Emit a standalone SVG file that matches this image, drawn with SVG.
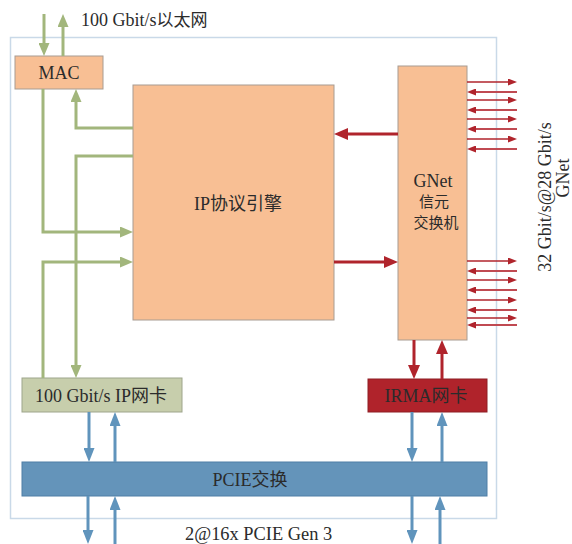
<svg xmlns="http://www.w3.org/2000/svg" width="572" height="544" viewBox="0 0 572 544">
<style>
text{font-family:"Liberation Serif","Noto Sans CJK SC",serif;fill:#2b2b2b;}
.box{fill:#F8BF94;stroke:#A89C92;stroke-width:1;}
.g{fill:none;stroke:#A2B67C;stroke-width:3;}
.rb{fill:none;stroke:#B0242C;stroke-width:3;}
.rs{fill:none;stroke:#B0242C;stroke-width:1.4;}
.rs2{fill:none;stroke:#C04A52;stroke-width:1.8;}
.b{fill:none;stroke:#6094BC;stroke-width:3;}
</style>
<defs>
<marker id="mg" markerUnits="userSpaceOnUse" markerWidth="13" markerHeight="11" refX="0" refY="5.5" orient="auto"><path d="M0,0L13,5.5L0,11z" fill="#A2B67C"/></marker>
<marker id="mr" markerUnits="userSpaceOnUse" markerWidth="14" markerHeight="12" refX="0" refY="6" orient="auto"><path d="M0,0L14,6L0,12z" fill="#B0242C"/></marker>
<marker id="ms" markerUnits="userSpaceOnUse" markerWidth="9" markerHeight="7" refX="0" refY="3.5" orient="auto"><path d="M0,0L9,3.5L0,7z" fill="#B0242C"/></marker>
<marker id="mb" markerUnits="userSpaceOnUse" markerWidth="14" markerHeight="11" refX="0" refY="5.5" orient="auto"><path d="M0,0L14,5.5L0,11z" fill="#6094BC"/></marker>
</defs>
<rect x="0" y="0" width="572" height="544" fill="#fff"/>
<rect id="frame" x="10.5" y="37.5" width="486" height="481" fill="none" stroke="#C9D9E8" stroke-width="1.5"/>
<text x="81" y="26" font-size="18">100 Gbit/s<tspan font-size="17">以太网</tspan></text>
<g id="mac"><rect class="box" x="15" y="56" width="88" height="33"/><text x="59" y="78.5" font-size="18" text-anchor="middle">MAC</text></g>
<g id="ip"><rect class="box" x="133" y="85" width="201" height="235"/><text x="238" y="210" font-size="18" text-anchor="middle">IP协议引擎</text></g>
<g id="gnet"><rect class="box" x="398" y="66" width="69" height="274"/>
<text x="433" y="187" font-size="18" text-anchor="middle">GNet</text>
<text x="434" y="207" font-size="15" text-anchor="middle">信元</text>
<text x="436" y="228" font-size="15" text-anchor="middle">交换机</text></g>
<g id="ipnic"><rect x="22" y="378" width="160" height="34" fill="#C7CEAC" stroke="#9EA58C" stroke-width="1"/><text x="101" y="401.5" font-size="18" text-anchor="middle">100 Gbit/s IP网卡</text></g>
<g id="irma"><rect x="368" y="379" width="119" height="33" fill="#B0232B" stroke="#8E1E24" stroke-width="1"/><text x="426" y="402" font-size="18" text-anchor="middle">IRMA网卡</text></g>
<g id="pcie"><rect x="22" y="462" width="465" height="34" fill="#6494BA" stroke="#4F7FA6" stroke-width="1"/><text x="250" y="486" font-size="18" text-anchor="middle">PCIE交换</text></g>
<g id="labels">
<text transform="translate(551,197) rotate(-90)" font-size="18" text-anchor="middle">32 Gbit/s@28 Gbit/s</text>
<text transform="translate(569,178) rotate(-90)" font-size="18" text-anchor="middle">GNet</text>
<text x="185" y="540" font-size="18.4">2@16x PCIE Gen 3</text>
</g>
<g id="connectors">
<path class="g" d="M44,14V43" marker-end="url(#mg)"/>
<path class="g" d="M63,56V27" marker-end="url(#mg)"/>
<path class="g" d="M133,128H76V102" marker-end="url(#mg)"/>
<path class="g" d="M43,89V232H120" marker-end="url(#mg)"/>
<path class="g" d="M133,156H76V365" marker-end="url(#mg)"/>
<path class="g" d="M43,378V262H120" marker-end="url(#mg)"/>
<path class="rb" d="M398,134H348" marker-end="url(#mr)"/>
<path class="rb" d="M334,262H384" marker-end="url(#mr)"/>
<path class="rb" d="M414,340V365" marker-end="url(#mr)"/>
<path class="rb" d="M442,379V354" marker-end="url(#mr)"/>
<path class="b" d="M89,412V448" marker-end="url(#mb)"/>
<path class="b" d="M115,462V426" marker-end="url(#mb)"/>
<path class="b" d="M88,496V530" marker-end="url(#mb)"/>
<path class="b" d="M115,544V510" marker-end="url(#mb)"/>
<path class="b" d="M412,412V448" marker-end="url(#mb)"/>
<path class="b" d="M442,462V426" marker-end="url(#mb)"/>
<path class="b" d="M412,496V530" marker-end="url(#mb)"/>
<path class="b" d="M440,544V510" marker-end="url(#mb)"/>
<path class="rs" d="M467,82H508" marker-end="url(#ms)"/>
<path class="rs2" d="M517,92H476" marker-end="url(#ms)"/>
<path class="rs" d="M467,100H508" marker-end="url(#ms)"/>
<path class="rs2" d="M517,110H476" marker-end="url(#ms)"/>
<path class="rs" d="M467,119H508" marker-end="url(#ms)"/>
<path class="rs2" d="M517,129H476" marker-end="url(#ms)"/>
<path class="rs" d="M467,139H508" marker-end="url(#ms)"/>
<path class="rs2" d="M517,149H476" marker-end="url(#ms)"/>
<path class="rs" d="M467,261H508" marker-end="url(#ms)"/>
<path class="rs2" d="M517,271H476" marker-end="url(#ms)"/>
<path class="rs" d="M467,280H508" marker-end="url(#ms)"/>
<path class="rs2" d="M517,290H476" marker-end="url(#ms)"/>
<path class="rs" d="M467,300H508" marker-end="url(#ms)"/>
<path class="rs2" d="M517,310H476" marker-end="url(#ms)"/>
<path class="rs" d="M467,318H508" marker-end="url(#ms)"/>
<path class="rs2" d="M517,325H476" marker-end="url(#ms)"/>
</g>
</svg>
